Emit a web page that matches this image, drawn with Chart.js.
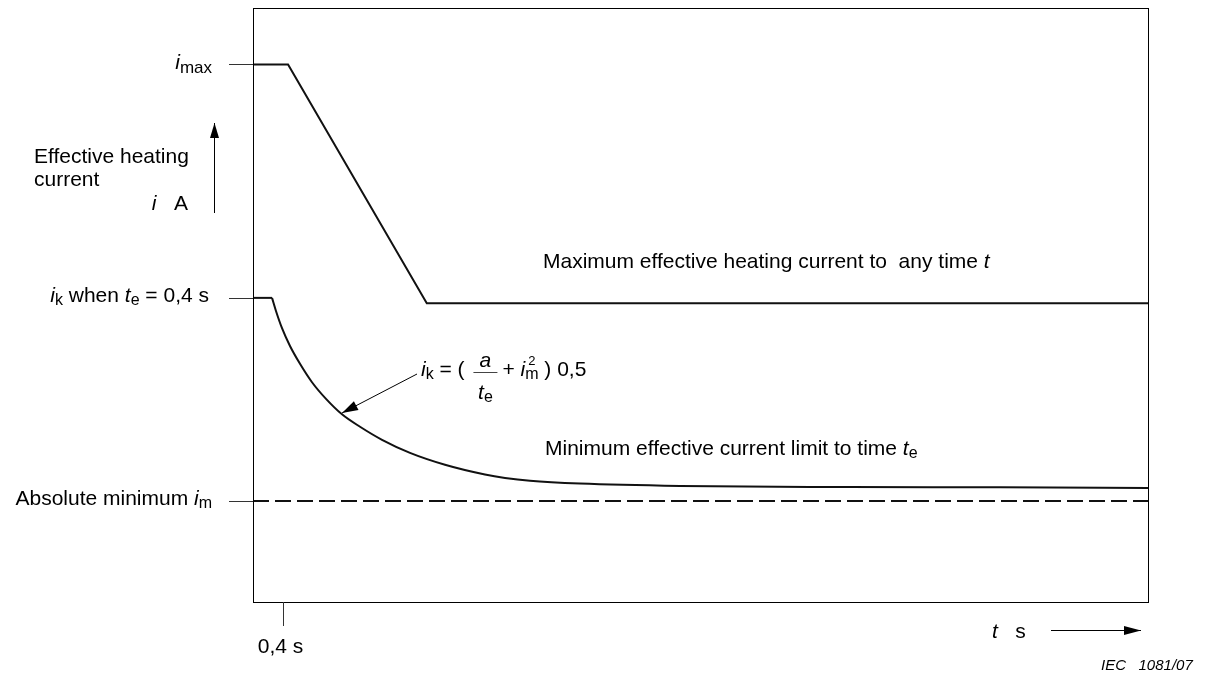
<!DOCTYPE html>
<html>
<head>
<meta charset="utf-8">
<script src="https://cdn.jsdelivr.net/npm/chart.js@4.4.1/dist/chart.umd.min.js"></script>
<style>
  html, body { margin: 0; padding: 0; background: #fff; }
  #wrap { width: 1216px; height: 679px; position: relative; }
</style>
</head>
<body>
<div id="wrap"><canvas id="chart"></canvas></div>
<script>
// axis ranges (arbitrary units, the original has no numeric scale)
const xRange = [0, 12];
const yRange = [0, 100];

// upper line: maximum effective heating current
const maxLineX = [0, 0.47, 2.33, 12];
const maxLineY = [90.5, 90.5, 50.3, 50.3];

// lower line: flat start then the i_k curve
const minFlatX = [0, 0.255];
const minFlatY = [51.2, 51.2];
const minCurveX = [0.255, 0.308, 0.389, 0.496, 0.63, 0.791, 0.979, 1.193, 1.435, 1.73, 2.105, 2.574, 3.11, 3.379, 3.714, 4.384, 5.725, 7.995, 10.016, 12];
const minCurveY = [51.2, 49.0, 46.1, 43.1, 40.1, 37.0, 34.2, 31.6, 29.5, 27.3, 25.1, 23.1, 21.46, 20.88, 20.4, 19.93, 19.53, 19.35, 19.3, 19.2];

// dashed absolute minimum
const absMinX = [0, 12];
const absMinY = [17, 17];

// marked levels on the axes
const yLevels = [90.5, 51.2, 17];
const xLevels = [0.4];

const FONT = '"Liberation Sans", Arial, sans-serif';
const BASE = 21;

function font(size, italic) {
  return (italic ? "italic " : "") + size + "px " + FONT;
}

function toPoints(xs, ys) {
  return xs.map((x, i) => ({ x, y: ys[i] }));
}

// draws a run of text parts with italic / subscript / superscript
function drawRun(ctx, parts, x, y, align) {
  const sizes = parts.map((p) => p.size || (p.sub || p.sup ? 16 : BASE));
  const widths = parts.map((p, i) => {
    ctx.font = font(sizes[i], p.it);
    return p.stack ? 0 : ctx.measureText(p.t).width;
  });
  const total = widths.reduce((a, b) => a + b, 0);
  let cx = align === "right" ? x - total : align === "center" ? x - total / 2 : x;
  let prevX = cx;
  ctx.textAlign = "left";
  ctx.textBaseline = "middle";
  parts.forEach((p, i) => {
    ctx.font = font(sizes[i], p.it);
    const dy = p.sub ? 5 : p.sup ? -9 : 0;
    if (p.stack) {
      ctx.fillText(p.t, prevX + 3, y + dy);
    } else {
      ctx.fillText(p.t, cx, y + dy);
      prevX = cx;
      cx += widths[i];
    }
  });
  return cx;
}

function arrowHead(ctx, x1, y1, x2, y2, len, half) {
  const ang = Math.atan2(y2 - y1, x2 - x1);
  ctx.beginPath();
  ctx.moveTo(x2, y2);
  ctx.lineTo(x2 - len * Math.cos(ang) + half * Math.sin(ang), y2 - len * Math.sin(ang) - half * Math.cos(ang));
  ctx.lineTo(x2 - len * Math.cos(ang) - half * Math.sin(ang), y2 - len * Math.sin(ang) + half * Math.cos(ang));
  ctx.closePath();
  ctx.fill();
}

function arrow(ctx, x1, y1, x2, y2, len, half) {
  ctx.beginPath();
  ctx.moveTo(x1, y1);
  ctx.lineTo(x2, y2);
  ctx.stroke();
  arrowHead(ctx, x1, y1, x2, y2, len, half);
}

const labelsPlugin = {
  id: "labels",
  afterDraw(chart) {
    const { ctx, chartArea: a, scales } = chart;
    const xs = scales.x;
    const ys = scales.y;
    ctx.save();
    ctx.fillStyle = "#000";
    ctx.strokeStyle = "#000";

    // frame
    ctx.lineWidth = 1;
    ctx.strokeRect(Math.round(a.left) + 0.5, Math.round(a.top) + 0.5, Math.round(a.right - a.left), Math.round(a.bottom - a.top));

    // level ticks on the left and the 0,4 s tick
    ctx.strokeStyle = "#333";
    yLevels.forEach((v) => {
      const py = Math.round(ys.getPixelForValue(v)) + 0.5;
      ctx.beginPath();
      ctx.moveTo(a.left - 24, py);
      ctx.lineTo(a.left, py);
      ctx.stroke();
    });
    xLevels.forEach((v) => {
      const px = Math.round(xs.getPixelForValue(v)) + 0.5;
      ctx.beginPath();
      ctx.moveTo(px, a.bottom);
      ctx.lineTo(px, a.bottom + 24);
      ctx.stroke();
    });

    const lx = a.left - 41;
    drawRun(ctx, [{ t: "i", it: true }, { t: "max", sub: true, size: 17 }], lx, ys.getPixelForValue(yLevels[0]) - 1, "right");
    drawRun(ctx, [
      { t: "i", it: true }, { t: "k", sub: true }, { t: " when " },
      { t: "t", it: true }, { t: "e", sub: true }, { t: " = 0,4 s" },
    ], lx - 3, ys.getPixelForValue(yLevels[1]) - 2, "right");
    drawRun(ctx, [{ t: "Absolute minimum " }, { t: "i", it: true }, { t: "m", sub: true }], lx, ys.getPixelForValue(yLevels[2]) - 2, "right");

    // y axis caption and arrow
    drawRun(ctx, [{ t: "Effective heating" }], 34, 157, "left");
    drawRun(ctx, [{ t: "current" }], 34, 180, "left");
    drawRun(ctx, [{ t: "i", it: true }, { t: "   A" }], 188, 204, "right");
    ctx.strokeStyle = "#000";
    arrow(ctx, 214.5, 213, 214.5, 123, 15, 4.5);

    // x axis
    drawRun(ctx, [{ t: "0,4 s" }], xs.getPixelForValue(xLevels[0]) - 25, 647, "left");
    drawRun(ctx, [{ t: "t", it: true }, { t: "   s" }], 992, 632, "left");
    arrow(ctx, 1051, 630.5, 1141, 630.5, 17, 4.5);

    ctx.font = font(15, true);
    ctx.textBaseline = "middle";
    ctx.fillText("IEC   1081/07", 1101, 666);

    // curve descriptions
    drawRun(ctx, [{ t: "Maximum effective heating current to  any time " }, { t: "t", it: true }], 543, 262, "left");
    drawRun(ctx, [{ t: "Minimum effective current limit to time " }, { t: "t", it: true }, { t: "e", sub: true }], 545, 449, "left");

    // formula
    const fy = 370;
    let cx = drawRun(ctx, [{ t: "i", it: true }, { t: "k", sub: true }, { t: " = ( " }], 421, fy, "left");
    cx += 3;
    ctx.lineWidth = 1;
    ctx.strokeStyle = "#444";
    ctx.beginPath();
    ctx.moveTo(cx, fy + 2.5);
    ctx.lineTo(cx + 24, fy + 2.5);
    ctx.stroke();
    drawRun(ctx, [{ t: "a", it: true }], cx + 12, fy - 9, "center");
    drawRun(ctx, [{ t: "t", it: true }, { t: "e", sub: true }], cx + 12, fy + 23, "center");
    cx += 29;
    drawRun(ctx, [
      { t: "+ " }, { t: "i", it: true }, { t: "m", sub: true }, { t: "2", sup: true, stack: true, size: 13 },
      { t: " ) 0,5" },
    ], cx, fy, "left");

    // pointer to the curve
    ctx.strokeStyle = "#000";
    ctx.lineWidth = 1;
    arrow(ctx, 417, 374, 342, 413, 16, 5);

    ctx.restore();
  },
};

const lineStyle = {
  showLine: true,
  pointRadius: 0,
  borderColor: "#111",
  borderWidth: 2,
  fill: false,
};

new Chart(document.getElementById("chart"), {
  type: "scatter",
  data: {
    datasets: [
      { ...lineStyle, label: "Maximum", data: toPoints(maxLineX, maxLineY) },
      { ...lineStyle, label: "Flat", data: toPoints(minFlatX, minFlatY) },
      { ...lineStyle, label: "Minimum", data: toPoints(minCurveX, minCurveY), cubicInterpolationMode: "monotone" },
      { ...lineStyle, label: "Absolute minimum", data: toPoints(absMinX, absMinY), borderDash: [16, 6] },
    ],
  },
  options: {
    responsive: true,
    maintainAspectRatio: false,
    animation: false,
    layout: { padding: { left: 253, top: 8, right: 68, bottom: 77 } },
    plugins: {
      legend: { display: false },
      tooltip: { enabled: false },
    },
    scales: {
      x: { type: "linear", min: xRange[0], max: xRange[1], display: false },
      y: { type: "linear", min: yRange[0], max: yRange[1], display: false },
    },
  },
  plugins: [labelsPlugin],
});
</script>
</body>
</html>
